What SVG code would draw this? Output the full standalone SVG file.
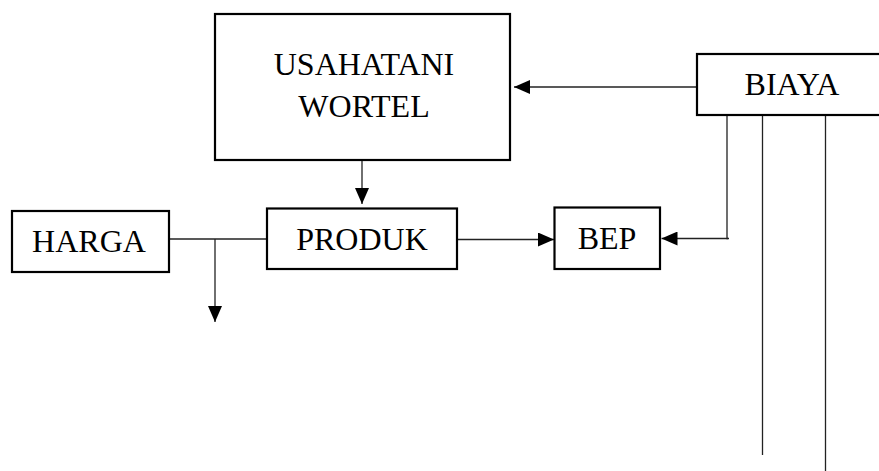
<svg xmlns="http://www.w3.org/2000/svg" width="879" height="471" viewBox="0 0 879 471">
<defs>
<style>
.box{fill:#fff;stroke:#000;stroke-width:2.2}
.t{font-family:"Liberation Serif","Times New Roman",serif;font-size:32px;fill:#000;text-anchor:middle}
.ln{fill:none;stroke:#222;stroke-width:1.3}
</style>
<marker id="ah" viewBox="0 0 16 14" refX="16" refY="7" markerWidth="16" markerHeight="14" markerUnits="userSpaceOnUse" orient="auto">
<path d="M0,0 L16,7 L0,14 Z" fill="#000"/>
</marker>
</defs>
<rect width="879" height="471" fill="#fff"/>
<g id="connectors">
<line class="ln" x1="697" y1="87" x2="514" y2="87" marker-end="url(#ah)"/>
<line class="ln" x1="362" y1="160" x2="362" y2="204" marker-end="url(#ah)"/>
<line class="ln" x1="170" y1="239" x2="267" y2="239"/>
<line class="ln" x1="215" y1="239" x2="215" y2="322" marker-end="url(#ah)"/>
<line class="ln" x1="457" y1="239.5" x2="554" y2="239.5" marker-end="url(#ah)"/>
<polyline class="ln" points="727,115 727,238.5 729,238.5"/>
<line class="ln" x1="728" y1="238.5" x2="661.5" y2="238.5" marker-end="url(#ah)"/>
<line class="ln" x1="762.5" y1="115" x2="762.5" y2="455"/>
<line class="ln" x1="825.5" y1="115" x2="825.5" y2="471"/>
</g>
<g id="usahatani">
<rect class="box" x="215" y="14" width="295" height="146"/>
<text class="t" x="364" y="75">USAHATANI</text>
<text class="t" x="364" y="117">WORTEL</text>
</g>
<g id="biaya">
<rect class="box" x="697" y="54" width="190" height="61"/>
<text class="t" x="792" y="95">BIAYA</text>
</g>
<g id="harga">
<rect class="box" x="12" y="211" width="157" height="61"/>
<text class="t" x="89" y="252">HARGA</text>
</g>
<g id="produk">
<rect class="box" x="267" y="208.5" width="190" height="60.5"/>
<text class="t" x="362" y="250">PRODUK</text>
</g>
<g id="bep">
<rect class="box" x="554.5" y="207.5" width="105.5" height="61.5"/>
<text class="t" x="607" y="248.5">BEP</text>
</g>
</svg>
